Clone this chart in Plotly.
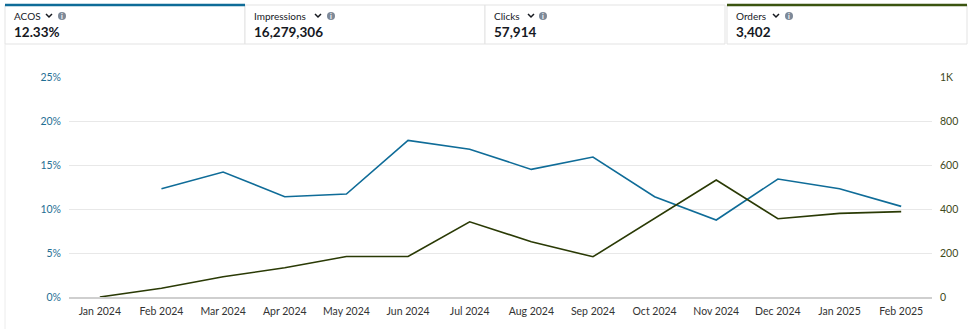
import plotly.graph_objects as go

months = ["Jan 2024", "Feb 2024", "Mar 2024", "Apr 2024", "May 2024", "Jun 2024", "Jul 2024",
          "Aug 2024", "Sep 2024", "Oct 2024", "Nov 2024", "Dec 2024", "Jan 2025", "Feb 2025"]
acos = [None, 12.3, 14.2, 11.4, 11.7, 17.8, 16.8, 14.5, 15.9, 11.4, 8.75, 13.4, 12.3, 10.3]
orders = [0, 40, 92, 133, 184, 184, 342, 251, 183, 357, 532, 356, 380, 388]

card_titles = ["ACOS", "Impressions", "Clicks", "Orders"]
card_values = ["12.33%", "16,279,306", "57,914", "3,402"]
left_ticks = [0, 5, 10, 15, 20, 25]
left_ticktext = ["0%", "5%", "10%", "15%", "20%", "25%"]
right_ticks = [0, 200, 400, 600, 800, 1000]
right_ticktext = ["0", "200", "400", "600", "800", "1K"]

BLUE = "#0f6c98"
OLIVE = "#2a3a05"
FONT = "Lato"
W, H = 980, 329
L, R, T, B = 69, 932, 77, 297


def px(x):
    return (x - L) / (R - L)


def py(y):
    return (B - y) / (B - T)


fig = go.Figure()
fig.add_trace(go.Scatter(x=months, y=acos, mode="lines", line=dict(color=BLUE, width=1.6),
                         name="ACOS", connectgaps=False, yaxis="y"))
fig.add_trace(go.Scatter(x=months, y=orders, mode="lines", line=dict(color=OLIVE, width=1.6),
                         name="Orders", yaxis="y2"))

shapes = []
annotations = []
card_x = [(5, 245), (245, 485), (485, 725), (727, 967)]
chev_x = [49, 318, 531, 776]
info_x = [62, 331, 543, 789]
for (x0, x1), title, val, cx, ix in zip(card_x, card_titles, card_values, chev_x, info_x):
    shapes.append(dict(type="rect", xref="paper", yref="paper", x0=px(x0), x1=px(x1), y0=py(44), y1=py(5),
                       line=dict(color="#e3e3e3", width=1), fillcolor="white", layer="below"))
    annotations.append(dict(xref="paper", yref="paper", x=px(x0 + 7), y=py(16), text=title, showarrow=False,
                            xanchor="left", yanchor="middle",
                            font=dict(family=FONT, size=10, color="#16191f")))
    shapes.append(dict(type="path", xref="paper", yref="paper",
                       path=f"M {px(cx-3)},{py(14)} L {px(cx)},{py(17)} L {px(cx+3)},{py(14)}",
                       line=dict(color="#16191f", width=1.5)))
    shapes.append(dict(type="circle", xref="paper", yref="paper", x0=px(ix - 4), x1=px(ix + 4),
                       y0=py(20), y1=py(12), fillcolor="#7d8998", line=dict(width=0)))
    annotations.append(dict(xref="paper", yref="paper", x=px(ix), y=py(16), text="<b>i</b>", showarrow=False,
                            xanchor="center", yanchor="middle",
                            font=dict(family=FONT, size=7, color="white")))
    annotations.append(dict(xref="paper", yref="paper", x=px(x0 + 7), y=py(32), text=f"<b>{val}</b>",
                            showarrow=False, xanchor="left", yanchor="middle",
                            font=dict(family=FONT, size=13.5, color="#16191f")))

shapes.append(dict(type="line", xref="paper", yref="paper", x0=px(5), x1=px(245), y0=py(5), y1=py(5),
                   line=dict(color=BLUE, width=2.5)))
shapes.append(dict(type="line", xref="paper", yref="paper", x0=px(727), x1=px(967), y0=py(5), y1=py(5),
                   line=dict(color="#3b5410", width=2.5)))
shapes.append(dict(type="line", xref="paper", yref="paper", x0=px(5), x1=px(5), y0=py(44), y1=py(329),
                   line=dict(color="#ececec", width=1)))

fig.update_layout(
    width=W, height=H,
    margin=dict(l=L, r=W - R, t=T, b=H - B),
    paper_bgcolor="white", plot_bgcolor="white",
    showlegend=False,
    font=dict(family=FONT, size=10.5, color="#333"),
    xaxis=dict(type="category", range=[-0.5, 13.5], showgrid=False, showline=True, linecolor="#cfcfcf",
               linewidth=2, ticks="", tickfont=dict(size=10.5, color="#333"), ticklabelstandoff=3,
               fixedrange=True),
    yaxis=dict(range=[0, 25], tickvals=left_ticks, ticktext=left_ticktext, showgrid=True,
               gridcolor="#e8e8e8", gridwidth=1, zeroline=False, ticks="",
               tickfont=dict(size=10.5, color="#1f6f94"), ticklabelstandoff=7),
    yaxis2=dict(range=[0, 1000], tickvals=right_ticks, ticktext=right_ticktext, overlaying="y",
                side="right", showgrid=False, zeroline=False, ticks="",
                tickfont=dict(size=10.5, color="#3f4a1c"), ticklabelstandoff=7),
    shapes=shapes,
    annotations=annotations,
)

fig.write_html("out.html")
